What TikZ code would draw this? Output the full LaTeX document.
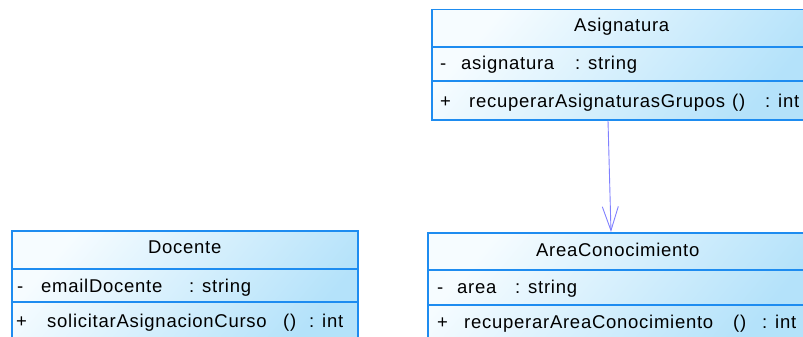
\documentclass[tikz,border=0pt]{standalone}
\usepackage{fontspec}
\setmainfont{Liberation Sans}[LetterSpace=4]
\usetikzlibrary{arrows.meta, calc}

\definecolor{umlborder}{RGB}{30,140,240}
\definecolor{umllight}{RGB}{246,252,255}
\definecolor{umlblue}{RGB}{180,226,250}
\definecolor{umlarrow}{RGB}{128,128,255}

\begin{document}
\begin{tikzpicture}[x=1pt, y=-1pt,
        classbox/.style={draw=umlborder, line width=1.5pt, rectangle, inner sep=0pt,
            anchor=north west, minimum width=#1, minimum height=110pt,
            top color=umllight, bottom color=umlblue, shading angle=50},
        divider/.style={draw=umlborder, line width=1.5pt},
        umltext/.style={inner sep=0pt, anchor=base west, text=black,
            font=\fontsize{18.5}{20}\selectfont},
        headtext/.style={umltext, anchor=base},
        assoc/.style={draw=umlarrow, line width=0.9pt,
            -{Straight Barb[length=24pt, width=16pt]}}
    ]
    \useasboundingbox (0,0) rectangle (803,337);
    \clip (0,0) rectangle (803,337);

    % classes
    \node[classbox=380pt] (asig) at (431,9) {};
    \node[classbox=346pt] (doc) at (11,230) {};
    \node[classbox=380pt] (area) at (427,232) {};

    % compartments
    \draw[divider] ($(asig.north west)+(0,38)$) -- ($(asig.north east)+(0,38)$);
    \draw[divider] ($(asig.north west)+(0,72)$) -- ($(asig.north east)+(0,72)$);
    \draw[divider] ($(doc.north west)+(0,39)$) -- ($(doc.north east)+(0,39)$);
    \draw[divider] ($(doc.north west)+(0,72)$) -- ($(doc.north east)+(0,72)$);
    \draw[divider] ($(area.north west)+(0,38)$) -- ($(area.north east)+(0,38)$);
    \draw[divider] ($(area.north west)+(0,73)$) -- ($(area.north east)+(0,73)$);

    % Asignatura
    \node[headtext] (asigname) at ($(asig.north)+(0,23)$) {Asignatura};
    \node[umltext] (asigvis) at ($(asig.north west)+(9,61)$) {-};
    \node[umltext] (asigattr) at ($(asig.north west)+(30,61)$) {asignatura};
    \node[umltext] (asigtype) at ($(asig.north west)+(144,61)$) {: string};
    \node[umltext] (asigpub) at ($(asig.north west)+(9,98)$) {+};
    \node[umltext] (asigop) at ($(asig.north west)+(38,98)$) {recuperarAsignaturasGrupos};
    \node[umltext] (asigpar) at ($(asig.north west)+(301,98)$) {()};
    \node[umltext] (asigret) at ($(asig.north west)+(334,98)$) {: int};

    % Docente
    \node[headtext] (docname) at ($(doc.north)+(0,23)$) {Docente};
    \node[umltext] (docvis) at ($(doc.north west)+(6,62)$) {-};
    \node[umltext] (docattr) at ($(doc.north west)+(30,62)$) {emailDocente};
    \node[umltext] (doctype) at ($(doc.north west)+(178,62)$) {: string};
    \node[umltext] (docpub) at ($(doc.north west)+(5,97)$) {+};
    \node[umltext] (docop) at ($(doc.north west)+(36,97)$) {solicitarAsignacionCurso};
    \node[umltext] (docpar) at ($(doc.north west)+(272,97)$) {()};
    \node[umltext] (docret) at ($(doc.north west)+(298,97)$) {: int};

    % AreaConocimiento
    \node[headtext] (areaname) at ($(area.north)+(0,24)$) {AreaConocimiento};
    \node[umltext] (areavis) at ($(area.north west)+(10,61)$) {-};
    \node[umltext] (areaattr) at ($(area.north west)+(30,61)$) {area};
    \node[umltext] (areatype) at ($(area.north west)+(88,61)$) {: string};
    \node[umltext] (areapub) at ($(area.north west)+(10,96)$) {+};
    \node[umltext] (areaop) at ($(area.north west)+(37,96)$) {recuperarAreaConocimiento};
    \node[umltext] (areapar) at ($(area.north west)+(306,96)$) {()};
    \node[umltext] (arearet) at ($(area.north west)+(335,96)$) {: int};

    % association
    \draw[assoc] ($(asig.south west)+(177,0)$) -- ($(area.north west)+(184,0)$);
\end{tikzpicture}
\end{document}
